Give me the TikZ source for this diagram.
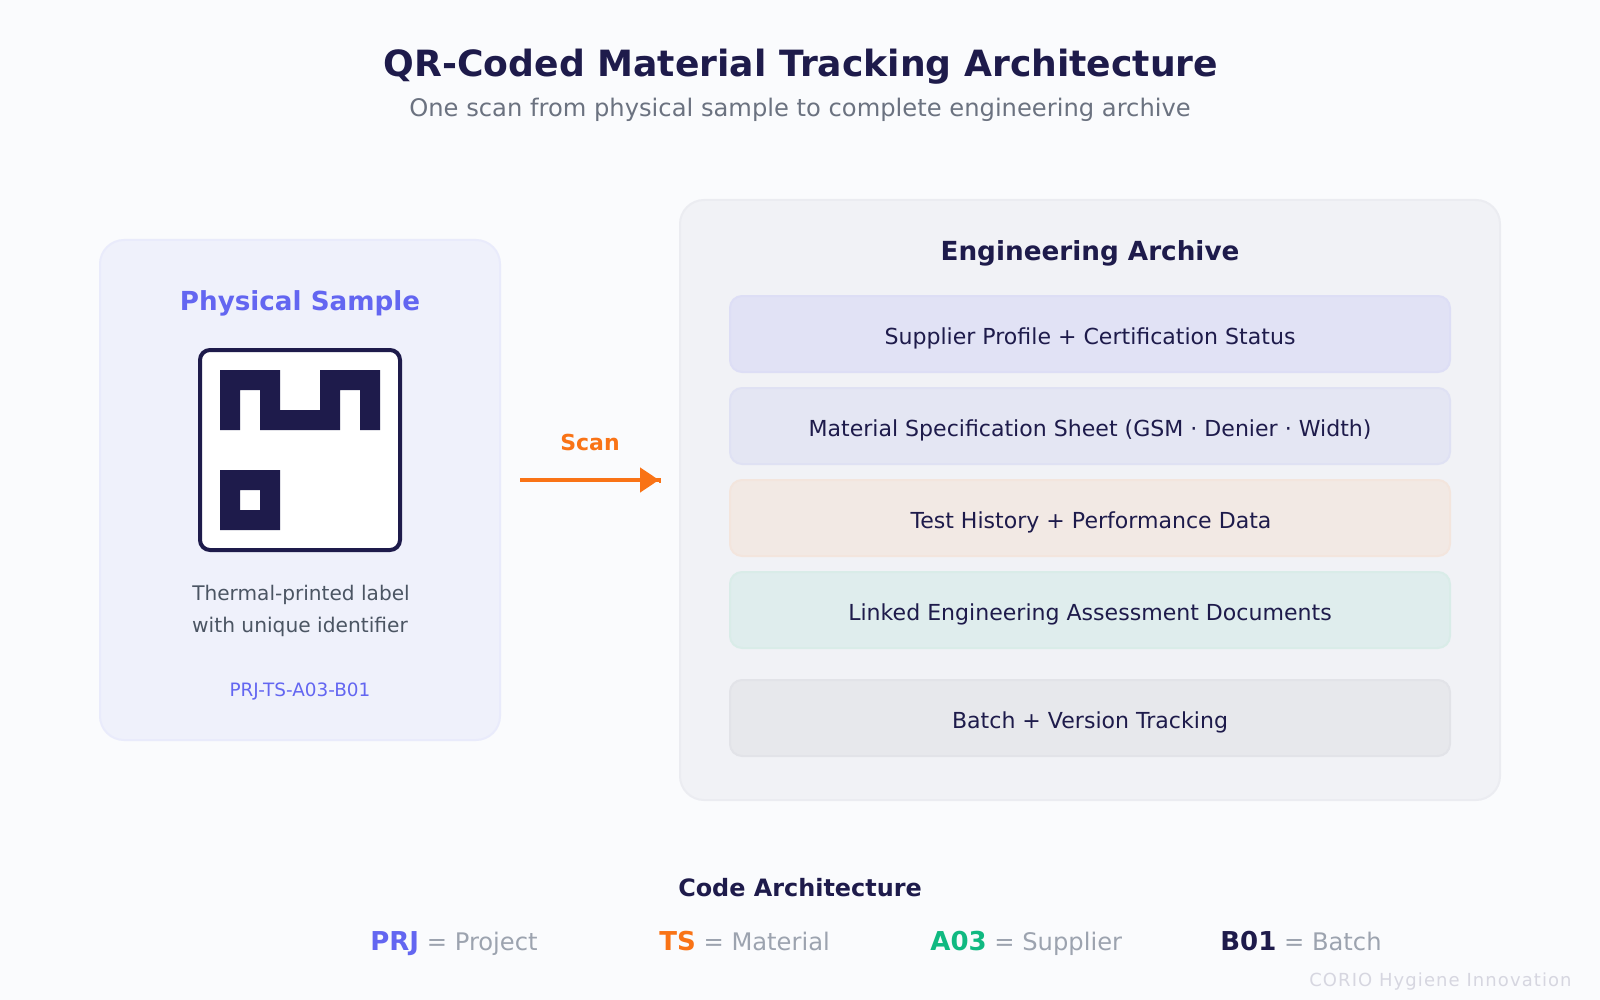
\documentclass[tikz,border=0pt]{standalone}
\usepackage{fontspec}
\setmainfont{DejaVu Sans}
\usetikzlibrary{arrows.meta}
\definecolor{pagebg}{HTML}{FAFBFD}
\definecolor{ink}{HTML}{1E1B4B}
\definecolor{indigo}{HTML}{6366F1}
\definecolor{scanorange}{HTML}{F97316}
\definecolor{a03green}{HTML}{10B981}
\definecolor{midgray}{HTML}{6B7280}
\definecolor{slate}{HTML}{4B5563}
\definecolor{softgray}{HTML}{9CA3AF}
\definecolor{brandgray}{HTML}{D6D6E0}
\definecolor{samplefill}{HTML}{EFF1FB}
\definecolor{sampleline}{HTML}{E9EBFB}
\definecolor{archivefill}{HTML}{F1F2F6}
\definecolor{archiveline}{HTML}{EBECF1}
\definecolor{supplierfill}{HTML}{E1E2F5}
\definecolor{supplierline}{HTML}{DDDEF5}
\definecolor{specfill}{HTML}{E4E6F3}
\definecolor{specline}{HTML}{DFE1F3}
\definecolor{testfill}{HTML}{F2E9E4}
\definecolor{testline}{HTML}{F3E5DD}
\definecolor{linkedfill}{HTML}{DFEDED}
\definecolor{linkedline}{HTML}{D9ECE8}
\definecolor{batchfill}{HTML}{E7E8EC}
\definecolor{batchline}{HTML}{E2E3E8}

\begin{document}
\begin{tikzpicture}[
  x=0.5pt, y=-0.5pt,
  panel/.style={draw, line width=1pt, rounded corners=12pt, inner sep=0pt, outer sep=0pt, anchor=north west},
  rowbox/.style={draw, line width=1pt, rounded corners=6pt, inner sep=0pt, outer sep=0pt, anchor=north west,
    minimum width=360pt, minimum height=38pt},
  rowtext/.style={anchor=base, inner sep=0pt, text=ink, font=\fontsize{11.03}{13}\selectfont},
  legendkey/.style={anchor=base west, inner sep=0pt, text=softgray, font=\fontsize{12.1}{14}\selectfont},
  qrmod/.style={fill=ink}
]

  \useasboundingbox (0,0) rectangle (1600,1000);
  \fill[pagebg] (0,0) rectangle (1600,1000);

  % heading
  \node [anchor=base, inner sep=0pt, text=ink, font=\fontsize{18.07}{22}\selectfont\bfseries] (title) at (801,77) {QR-Coded Material Tracking Architecture};
  \node [anchor=base, inner sep=0pt, text=midgray, font=\fontsize{12.1}{14}\selectfont] (subtitle) at (800,117) {One scan from physical sample to complete engineering archive};

  % left panel
  \node [panel, fill=samplefill, draw=sampleline, minimum width=200pt, minimum height=250pt] (sample) at (100,240) {};
  \node [anchor=base, inner sep=0pt, text=indigo, font=\fontsize{13.1}{16}\selectfont\bfseries] (sampletitle) at (300,310) {Physical Sample};
  \node [draw=ink, fill=white, line width=2pt, rounded corners=5pt, inner sep=0pt, outer sep=0pt, anchor=north west,
    minimum width=100pt, minimum height=100pt] (label) at (200,350) {};

  \fill[qrmod] (220,370) rectangle (280,390) (220,390) rectangle (240,430) (260,390) rectangle (280,430)
    (280,410) rectangle (320,430) (320,370) rectangle (380,390) (320,390) rectangle (340,430) (360,390) rectangle (380,430);
  \fill[qrmod] (220,470) rectangle (280,490) (220,510) rectangle (280,530) (220,490) rectangle (240,510) (260,490) rectangle (280,510);

  \node [anchor=base, inner sep=0pt, text=slate, font=\fontsize{10.05}{12}\selectfont] (caption1) at (301,600) {Thermal-printed label};
  \node [anchor=base, inner sep=0pt, text=slate, font=\fontsize{10.1}{12}\selectfont] (caption2) at (300,632) {with unique identifier};
  \node [anchor=base, inner sep=0pt, text=indigo, font=\fontsize{9.2}{11}\selectfont] (samplecode) at (300,696) {PRJ-TS-A03-B01};

  % scan arrow
  \coordinate (scanstart) at (520,480);
  \coordinate (scanend) at (660,480);
  \draw [scanorange, line width=2.3pt, -{Triangle[length=9.5pt,width=12pt]Rectangle[length=0.5pt,width=2.3pt]}] (scanstart) -- (scanend);
  \node [anchor=base, inner sep=0pt, text=scanorange, font=\fontsize{11}{13}\selectfont\bfseries] (scan) at (590,450) {Scan};

  % right panel
  \node [panel, fill=archivefill, draw=archiveline, minimum width=410pt, minimum height=300pt] (archive) at (680,200) {};
  \node [anchor=base, inner sep=0pt, text=ink, font=\fontsize{13.13}{16}\selectfont\bfseries] (archivetitle) at (1090,261) {Engineering Archive};

  \node [rowbox, fill=supplierfill, draw=supplierline] (supplier) at (730,296) {};
  \node [rowbox, fill=specfill, draw=specline] (spec) at (730,388) {};
  \node [rowbox, fill=testfill, draw=testline] (test) at (730,480) {};
  \node [rowbox, fill=linkedfill, draw=linkedline] (linked) at (730,572) {};
  \node [rowbox, fill=batchfill, draw=batchline] (batch) at (730,680) {};

  \node [rowtext] (suppliertext) at (1090,344) {Supplier Profile + Certification Status};
  \node [rowtext] (spectext) at (1090,436) {Material Specification Sheet (GSM · Denier · Width)};
  \node [rowtext] (testtext) at (1091,528) {Test History + Performance Data};
  \node [rowtext] (linkedtext) at (1090,620) {Linked Engineering Assessment Documents};
  \node [rowtext] (batchtext) at (1090,728) {Batch + Version Tracking};

  % legend
  \node [anchor=base, inner sep=0pt, text=ink, font=\fontsize{11.95}{14}\selectfont\bfseries] (legend) at (800,896) {Code Architecture};
  \node [legendkey] (prj) at (370,950) {\textcolor{indigo}{\fontsize{13}{14}\selectfont\bfseries PRJ} = Project};
  \node [legendkey] (ts) at (659,950) {\textcolor{scanorange}{\fontsize{13}{14}\selectfont\bfseries TS} = Material};
  \node [legendkey] (a03) at (930,950) {\textcolor{a03green}{\fontsize{13}{14}\selectfont\bfseries A03} = Supplier};
  \node [legendkey] (b01) at (1220,950) {\textcolor{ink}{\fontsize{13}{14}\selectfont\bfseries B01} = Batch};

  \node [anchor=base east, inner sep=0pt, text=brandgray, font=\fontsize{9}{11}\selectfont\addfontfeature{LetterSpace=6}] (brand) at (1572,986) {CORIO Hygiene Innovation};

\end{tikzpicture}
\end{document}
